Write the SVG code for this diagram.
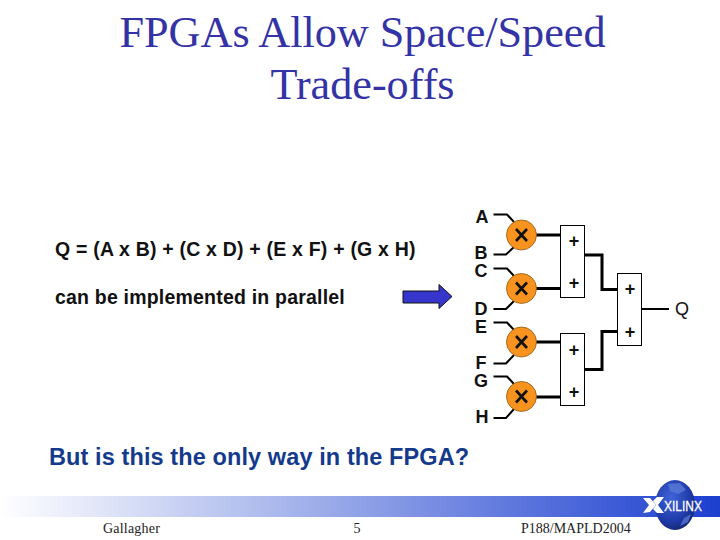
<svg xmlns="http://www.w3.org/2000/svg" width="720" height="540" viewBox="0 0 720 540">
<style>
.t{font-family:"Liberation Serif",serif}
.s{font-family:"Liberation Sans",Arial,sans-serif;fill:#111}
.b{font-weight:bold;font-size:19.500px;letter-spacing:.2px}
.l{font-weight:bold;font-size:18px;text-anchor:middle}
.p{font-weight:bold;font-size:18px;text-anchor:middle}
.f{font-size:14px;fill:#222}
.w{fill:none;stroke:#000;stroke-width:2}
.h{fill:none;stroke:#000;stroke-width:3}
.m{fill:#f7931e;stroke:#8a5a10;stroke-width:.8}
.x{fill:none;stroke:#111;stroke-width:2.600}
.r{fill:#fff;stroke:#000;stroke-width:1}
</style>
<defs>
<linearGradient id="band" x1="0" x2="1" y1="0" y2="0"><stop offset="0" stop-color="#fff"/><stop offset=".39" stop-color="#a9b7ec"/><stop offset="1" stop-color="#1c3fd0"/></linearGradient>
<radialGradient id="globe" cx=".4" cy=".35" r=".7"><stop offset="0" stop-color="#3f64d8"/><stop offset=".7" stop-color="#1f3aa8"/><stop offset="1" stop-color="#14256e"/></radialGradient>
</defs>
<rect id="footer-band" x="0" y="496" width="720" height="21" fill="url(#band)"/>
<g id="logo">
<ellipse cx="675" cy="505" rx="20" ry="25" fill="url(#globe)"/>
<path d="M668 484L680 483L686 490L678 494L670 491ZM684 518L691 514L688 522L680 526Z" fill="#5f7fdc" opacity=".7"/>
<polygon points="643,498 650,498 656,505 650,512 643,513 649,505" fill="#fff"/>
<polygon points="664,497 657,497 653,501 656,505 653,509 657,513 664,513 658,505" fill="#fff"/>
<text x="664" y="511" font-family="'Liberation Sans',sans-serif" font-size="15" fill="#fff" stroke="#fff" stroke-width=".3" textLength="38" lengthAdjust="spacingAndGlyphs">XILINX</text>
</g>
<g id="title" class="t" font-size="44.200" text-anchor="middle" fill="#3333a6">
<text x="362.500" y="47">FPGAs Allow Space/Speed</text>
<text x="362.500" y="99">Trade-offs</text>
</g>
<g id="body" class="s">
<text class="b" x="55" y="255.500">Q = (A x B) + (C x D) + (E x F) + (G x H)</text>
<text class="b" x="55" y="304">can be implemented in parallel</text>
<text x="49" y="465" font-size="23.500" font-weight="bold" letter-spacing=".1" style="fill:#143a8c">But is this the only way in the FPGA?</text>
</g>
<g id="arrow"><polygon points="403,291 439,291 439,284.500 452,296.500 439,308.500 439,303 403,303" fill="#3636cc" stroke="#111" stroke-width="1"/></g>
<g id="connectors">
<path class="w" d="M493.500 214.500H507L514 222M493.500 254.500H506L514 247M493.500 268.500H507L514 276M493.500 309H506L514 301M493.500 322.500H507L514 330M493.500 363.500H506L514 355M493.500 376.500H507L514 384M493.500 418H506L514 409"/>
<path class="h" d="M536 235H561M536 288.500H561M536 342H561M536 397H561M584 255H602V289.500H618M584 369.500H602V331.500H618"/>
<path class="w" d="M642 309H669"/>
</g>
<g id="mult-1"><circle class="m" cx="521.500" cy="235" r="15"/><path class="x" d="M516 229L527 241M527 229L516 241"/></g>
<g id="mult-2"><circle class="m" cx="521.500" cy="288.500" r="15"/><path class="x" d="M516 282.500L527 294.500M527 282.500L516 294.500"/></g>
<g id="mult-3"><circle class="m" cx="521.500" cy="342" r="15"/><path class="x" d="M516 336L527 348M527 336L516 348"/></g>
<g id="mult-4"><circle class="m" cx="521.500" cy="396.500" r="15"/><path class="x" d="M516 390.500L527 402.500M527 390.500L516 402.500"/></g>
<g id="adder-1"><rect class="r" x="560.500" y="225.500" width="24" height="72"/><text class="s p" x="574" y="247">+</text><text class="s p" x="574" y="289">+</text></g>
<g id="adder-2"><rect class="r" x="560.500" y="333.500" width="24" height="72"/><text class="s p" x="574" y="355.500">+</text><text class="s p" x="574" y="398">+</text></g>
<g id="adder-3"><rect class="r" x="617.500" y="273.500" width="24" height="72"/><text class="s p" x="630" y="295">+</text><text class="s p" x="630" y="338">+</text></g>
<g id="labels" class="s">
<text class="l" x="482" y="223">A</text>
<text class="l" x="481" y="259">B<tspan x="481" dy="18">C</tspan></text>
<text class="l" x="481" y="315">D<tspan x="481" dy="18">E</tspan></text>
<text class="l" x="481" y="369">F<tspan x="481" dy="18">G</tspan></text>
<text class="l" x="482" y="423">H</text>
<text x="682" y="315" font-size="18" text-anchor="middle">Q</text>
</g>
<g id="footer" class="t f">
<text x="103" y="533" letter-spacing=".2">Gallagher</text>
<text x="357" y="533" text-anchor="middle">5</text>
<text x="521" y="533">P188/MAPLD2004</text>
</g>
</svg>
